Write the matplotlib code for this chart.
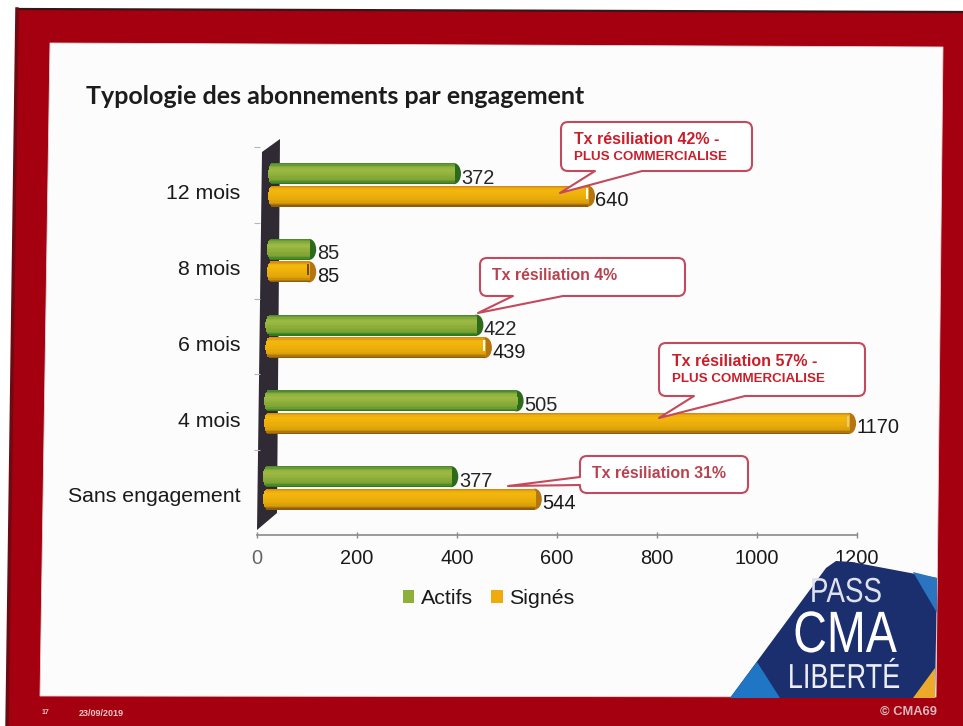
import numpy as np
import matplotlib
matplotlib.use("Agg")
import matplotlib.pyplot as plt
from matplotlib.patches import Ellipse, Patch, PathPatch, Polygon
from matplotlib.patheffects import AbstractPathEffect
from matplotlib.path import Path
from matplotlib.transforms import Affine2D
from matplotlib.colors import LinearSegmentedColormap

categories = ["12 mois", "8 mois", "6 mois", "4 mois", "Sans engagement"]
actifs = [372, 85, 422, 505, 377]
signes = [640, 85, 439, 1170, 544]
ticks = [0, 200, 400, 600, 800, 1000, 1200]

W, H = 963, 726
plt.rcParams["font.family"] = ["Liberation Sans", "DejaVu Sans"]
fig = plt.figure(figsize=(W / 100, H / 100), dpi=100, facecolor="white")


class Narrow(AbstractPathEffect):
    # squeeze the glyphs sideways, no condensed font is installed
    def __init__(self, sx, cx):
        super().__init__()
        self.t = Affine2D().translate(-cx, 0).scale(sx, 1).translate(cx, 0)

    def draw_path(self, renderer, gc, tpath, affine, rgbFace=None):
        renderer.draw_path(gc, tpath, affine + self.t, rgbFace)


def overlay(z):
    a = fig.add_axes([0, 0, 1, 1], zorder=z)
    a.set_xlim(0, W)
    a.set_ylim(H, 0)
    a.axis("off")
    return a


bg = overlay(0)
fg = overlay(2)

# slide frame
bg.add_patch(Polygon([(17, 9), (963, 12), (963, 726), (7, 726)], fc="#a5000f", ec="none"))
bg.plot([17, 963], [9, 12], color="#3a1518", lw=1.6)
bg.plot([17, 7], [9, 726], color="#6e0a12", lw=2.5)
bg.add_patch(Polygon([(50, 43), (943, 47), (936, 697), (40, 696)], fc="#fdfcfd", ec="#e6d5d8", lw=0.6))
bg.text(86, 96, "Typologie des abonnements par engagement", fontsize=18, fontweight="bold",
        family="Lato", color="#1c1c1c", va="center")

# 3d wall behind the bars
bg.add_patch(Polygon([(262, 152), (280, 139), (277, 513), (257, 530)], fc="#2f2a33", ec="none"))

ax = fig.add_axes([257 / W, 1 - 535 / H, 600 / W, 395 / H], zorder=1)
ax.patch.set_alpha(0)
ax.set_xlim(0, 1200)
ax.set_ylim(4.62, -0.594)
for s in ["top", "right", "left"]:
    ax.spines[s].set_visible(False)
ax.spines["bottom"].set_color("#8a8a8a")
ax.spines["bottom"].set_linewidth(1.2)
ax.set_xticks(ticks)
ax.tick_params(axis="x", direction="inout", length=5, width=1, color="#8a8a8a",
               labelsize=14.4, pad=7.5, labelcolor="#1a1a1a")
ax.get_xticklabels()[0].set_color("#666666")
ax.set_yticks([i + 0.09 for i in range(len(categories))])
ax.set_yticklabels(categories, fontsize=15.3, color="#1a1a1a")
ax.tick_params(axis="y", length=0, pad=12)
ax.set_yticks([i - 0.5 for i in range(len(categories))], minor=True)
ax.tick_params(axis="y", which="minor", direction="inout", length=5, width=0.8, color="#b5b5b5")

green = LinearSegmentedColormap.from_list(
    "g", ["#4f8a30", "#8fb23c", "#9cba45", "#92b23e", "#86a938", "#7ca334", "#2f7a1c"])
orange = LinearSegmentedColormap.from_list(
    "o", ["#d98a10", "#f2b90c", "#f0b40c", "#ecae0b", "#e5a90a", "#d89c08", "#8f5c12"])
cap_green = "#2c6b1c"
cap_orange = "#b5750f"
slivers = ["#ffffff", "#6b4a10", "#ffffff", "#e8c98a", None]

bar_h = 0.277
bands = 16
px_x = 2.0


def cylinder(y, val, left, cmap, cap):
    ax.add_patch(Ellipse((left + val, y), 14 * px_x, bar_h, fc=cap, ec="none", zorder=2))
    for i in range(bands):
        t = (i + 0.5) / bands * 2 - 1
        arc = np.sqrt(1 - t ** 2)
        inset = 5 * px_x * (1 - arc)
        ax.barh(y - bar_h / 2 + (i + 0.5) * bar_h / bands, val - inset + px_x * arc,
                height=bar_h / bands * 1.1, left=left + inset, color=cmap(i / (bands - 1)),
                lw=0, zorder=3)


for i, cat in enumerate(categories):
    left = 22 - 2.6 * i
    y_a, y_s = i - 0.15, i + 0.147
    cylinder(y_a, actifs[i], left, green, cap_green)
    cylinder(y_s, signes[i], left, orange, cap_orange)
    if slivers[i]:
        ax.plot([left + signes[i] - 2] * 2, [y_s - 0.09, y_s + 0.03], color=slivers[i], lw=1.4, zorder=4)
    ax.text(left + actifs[i] + 15, y_a + 0.06, str(actifs[i]), fontsize=14.4, color="#262626", va="center", zorder=5)
    ax.text(left + signes[i] + 15, y_s + 0.06, str(signes[i]), fontsize=14.4, color="#1a1a1a", va="center", zorder=5)

leg = ax.legend(handles=[Patch(fc="#8cb03a", label="Actifs"), Patch(fc="#efaa0e", label="Signés")],
                loc="center", bbox_to_anchor=(488.5 / W, 1 - 599 / H), bbox_transform=fig.transFigure,
                ncol=2, frameon=False, fontsize=15.4, handlelength=0.55, handleheight=0.55,
                handletextpad=0.3, columnspacing=0.85, labelcolor="#1a1a1a")


def callout(x0, y0, x1, y1, tip, base_a, base_b, side="bottom", r=7):
    M, L, C = Path.MOVETO, Path.LINETO, Path.CURVE3
    v = [(x0 + r, y0), (x1 - r, y0), (x1, y0), (x1, y0 + r), (x1, y1 - r), (x1, y1), (x1 - r, y1)]
    c = [M, L, C, C, L, C, C]
    if side == "bottom":
        v += [(base_b, y1), tip, (base_a, y1)]
        c += [L, L, L]
    v += [(x0 + r, y1), (x0, y1), (x0, y1 - r)]
    c += [L, C, C]
    if side == "left":
        v += [(x0, base_b), tip, (x0, base_a)]
        c += [L, L, L]
    v += [(x0, y0 + r), (x0, y0), (x0 + r, y0)]
    c += [L, C, C]
    fg.add_patch(PathPatch(Path(v, c), fc="#ffffff", ec="#c24a5c", lw=1.5, joinstyle="round", zorder=1))


callout(561, 122, 752, 171, (560, 193), 595, 642)
callout(480, 258, 685, 296, (478, 313), 513, 563)
callout(659, 343, 865, 396, (659, 418), 694, 745)
callout(580, 456, 748, 493, (508, 486), 477, 485, side="left")

red = "#c91f2a"
dull = "#b8434f"
fg.text(574, 139, "Tx résiliation 42% -", color=red, fontsize=11.5, fontweight="bold", va="center", zorder=2)
fg.text(574, 157, "PLUS COMMERCIALISE", color=red, fontsize=9.6, fontweight="bold", va="center", zorder=2)
fg.text(492, 276, "Tx résiliation 4%", color=dull, fontsize=11.4, fontweight="bold", va="center", zorder=2)
fg.text(672, 362, "Tx résiliation 57% -", color=red, fontsize=11.5, fontweight="bold", va="center", zorder=2)
fg.text(672, 379, "PLUS COMMERCIALISE", color=red, fontsize=9.6, fontweight="bold", va="center", zorder=2)
fg.text(592, 473, "Tx résiliation 31%", color=dull, fontsize=11.4, fontweight="bold", va="center", zorder=2)

# logo
fg.add_patch(Polygon([(730, 698), (826, 568), (836, 561), (852, 562), (937, 578), (935, 698)],
                     fc="#1b2f6e", ec="none", zorder=3))
fg.add_patch(Polygon([(730, 698), (757, 662), (780, 698)], fc="#1f76c4", ec="none", zorder=3))
fg.add_patch(Polygon([(913, 572), (937, 578), (937, 613)], fc="#2a74c0", ec="none", zorder=3))
fg.add_patch(Polygon([(913, 698), (935, 668), (935, 698)], fc="#eda92a", ec="none", zorder=3))
for txt, cx, base, size, sx, col in [("PASS", 846, 602, 25, 0.8, "#dfe2ec"),
                                     ("CMA", 845, 652, 42, 0.8, "#ffffff"),
                                     ("LIBERTÉ", 844, 688, 25, 0.78, "#eceef4")]:
    t = fg.text(cx, base, txt, color=col, fontsize=size, ha="center", va="baseline", zorder=4)
    t.set_path_effects([Narrow(sx, cx)])

# footer
fg.text(45, 713, "17", color="#e8c8c8", fontsize=5, fontweight="bold", ha="center", va="center")
fg.text(101, 713, "23/09/2019", color="#e8c8c8", fontsize=6.5, fontweight="bold", ha="center", va="center")
fg.text(908, 712, "© CMA69", color="#d8b8bc", fontsize=9.3, fontweight="bold", ha="center", va="center")

fig.savefig("out.png", dpi=100)
